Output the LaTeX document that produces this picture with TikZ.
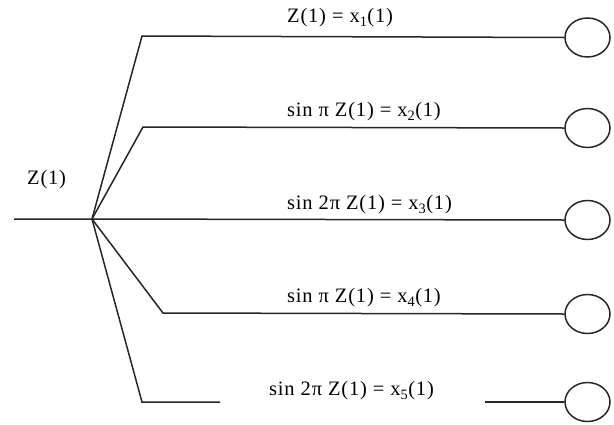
\documentclass[tikz,border=0pt]{standalone}
\usepackage{fontspec}
\setmainfont{Liberation Serif}[LetterSpace=4]
\usetikzlibrary{shapes.geometric}
\begin{document}
\begin{tikzpicture}[x=1pt,y=-1pt,
  wire/.style={line width=1.5pt, draw=black!85},
  term/.style={ellipse, draw=black!85, line width=1.5pt, minimum width=45pt, minimum height=39pt, inner sep=0pt},
  lbl/.style={anchor=west, inner sep=0pt, font=\fontsize{20.5}{23}\selectfont}]
\useasboundingbox (0,0) rectangle (614,424);
% terminals
\node[term] (c1) at (587.5,37.5) {};
\node[term] (c2) at (587.5,128) {};
\node[term] (c3) at (587.5,220) {};
\node[term] (c4) at (587.5,314) {};
\node[term] (c5) at (587.5,402) {};
% coordinates
\coordinate (in) at (14,219);
\coordinate (hub) at (92,219);
\coordinate (k1) at (142,36);
\coordinate (k2) at (143,127);
\coordinate (k4) at (163,313);
\coordinate (k5) at (142,402);
\coordinate (g5a) at (220,402);
\coordinate (g5b) at (485,402);
% wires
\draw[wire] (hub) -- (k1) -- (c1.west);
\draw[wire] (hub) -- (k2) -- (c2.west);
\draw[wire] (in) -- (hub) -- (c3.west);
\draw[wire] (hub) -- (k4) -- (c4.west);
\draw[wire] (hub) -- (k5) -- (g5a);
\draw[wire] (g5b) -- (c5.west);
% labels
\node[lbl] (z) at (27,180) {Z(1)};
\node[lbl] (l1) at (287,18) {Z(1) = x\textsubscript{1}(1)};
\node[lbl] (l2) at (287,112) {sin π Z(1) = x\textsubscript{2}(1)};
\node[lbl] (l3) at (287,205) {sin 2π Z(1) = x\textsubscript{3}(1)};
\node[lbl] (l4) at (287,298) {sin π Z(1) = x\textsubscript{4}(1)};
\node[lbl] (l5) at (269,391) {sin 2π Z(1) = x\textsubscript{5}(1)};
\end{tikzpicture}
\end{document}
